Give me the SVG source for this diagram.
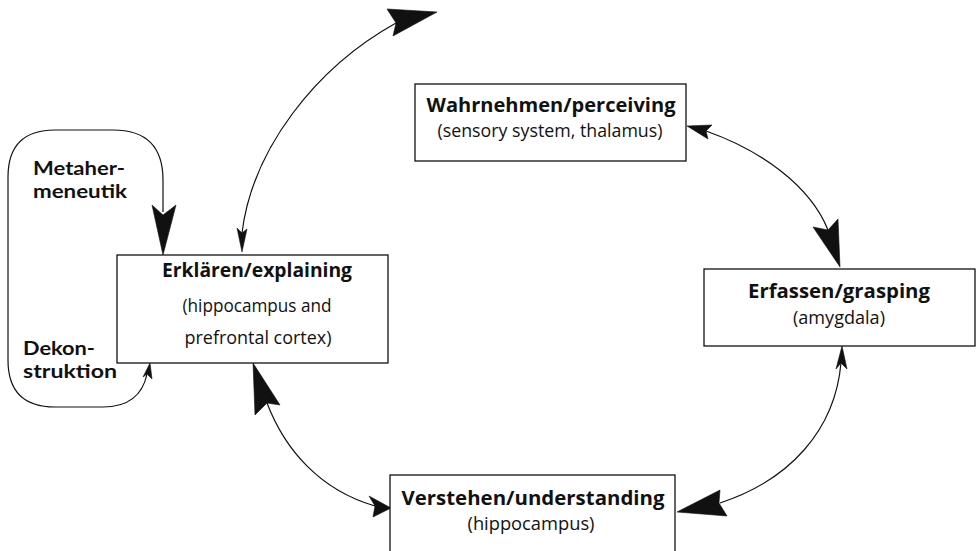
<svg xmlns="http://www.w3.org/2000/svg" width="978" height="551" viewBox="0 0 978 551">
<style>
  .box { fill: #fff; stroke: #111; stroke-width: 1.3; }
  .title { font-family: "Open Sans", "Liberation Sans", sans-serif; font-weight: 700; font-size: 19px; fill: #111; text-anchor: middle; }
  .sub { font-family: "Open Sans", "Liberation Sans", sans-serif; font-weight: 400; font-size: 18px; fill: #111; text-anchor: middle; }
  .lbl { font-family: Lato, "Liberation Sans", sans-serif; font-weight: 700; font-size: 19px; fill: #111; }
  .line { fill: none; stroke: #111; stroke-width: 1.2; }
  .head { fill: #111; stroke: #111; stroke-width: 0.6; stroke-linejoin: round; }
</style>
<rect width="978" height="551" fill="#fff"/>

<g id="connectors">
  <!-- left loop (Metahermeneutik / Dekonstruktion) -->
  <path class="line" d="M163,212 V180 Q163,130 113,130 H55 Q8,130 8,177 V360 Q8,407 55,407 H103 Q140,407 147,374"/>
  <polygon class="head" points="163,255 152,205 163,215 176,205"/>
  <polygon class="head" points="150,363 143,377 147,374 152,379"/>

  <!-- Erklaeren -> top -->
  <path class="line" d="M242,233 C252,150 315,68 396,23"/>
  <polygon class="head" points="242,252 237,228 242,233 247,229"/>
  <polygon class="head" points="437,12 387,9 396,23 393,36"/>

  <!-- Wahrnehmen <-> Erfassen -->
  <path class="line" d="M706,131 C760,150 810,185 828,230"/>
  <polygon class="head" points="687,126 712,125 706,131 708,139"/>
  <polygon class="head" points="840,267 813,227 828,230 838,219"/>

  <!-- Erfassen <-> Verstehen -->
  <path class="line" d="M841,363 C835,430 790,480 720,503"/>
  <polygon class="head" points="842,346 836,369 841,363 847,369"/>
  <polygon class="head" points="677,512 720,490 719,503 727,516"/>

  <!-- Erklaeren <-> Verstehen -->
  <path class="line" d="M267,403 C285,450 320,490 375,506"/>
  <polygon class="head" points="253,363 255,415 267,403 280,405"/>
  <polygon class="head" points="391,508 369,496 375,506 373,517"/>
</g>

<g id="loop-labels">
  <text class="lbl" x="33" y="175" textLength="92" lengthAdjust="spacingAndGlyphs">Metaher-</text>
  <text class="lbl" x="33" y="198" textLength="94" lengthAdjust="spacingAndGlyphs">meneutik</text>
  <text class="lbl" x="23" y="355" textLength="72" lengthAdjust="spacingAndGlyphs">Dekon-</text>
  <text class="lbl" x="23" y="378" textLength="94" lengthAdjust="spacingAndGlyphs">struktion</text>
</g>

<g id="node-erklaeren">
  <rect class="box" x="117" y="255" width="271" height="108"/>
  <text class="title" x="257" y="277" textLength="190" lengthAdjust="spacingAndGlyphs">Erklären/explaining</text>
  <text class="sub" x="257" y="312" textLength="149" lengthAdjust="spacingAndGlyphs">(hippocampus and</text>
  <text class="sub" x="258" y="344" textLength="147" lengthAdjust="spacingAndGlyphs">prefrontal cortex)</text>
</g>

<g id="node-wahrnehmen">
  <rect class="box" x="415" y="84" width="271" height="77"/>
  <text class="title" x="551" y="112" textLength="249" lengthAdjust="spacingAndGlyphs">Wahrnehmen/perceiving</text>
  <text class="sub" x="550" y="137" textLength="225" lengthAdjust="spacingAndGlyphs">(sensory system, thalamus)</text>
</g>

<g id="node-erfassen">
  <rect class="box" x="704" y="269" width="271" height="77"/>
  <text class="title" x="839" y="298" textLength="182" lengthAdjust="spacingAndGlyphs">Erfassen/grasping</text>
  <text class="sub" x="839" y="324" textLength="92" lengthAdjust="spacingAndGlyphs">(amygdala)</text>
</g>

<g id="node-verstehen">
  <rect class="box" x="390" y="475" width="285" height="90"/>
  <text class="title" x="533" y="505" textLength="263" lengthAdjust="spacingAndGlyphs">Verstehen/understanding</text>
  <text class="sub" x="531" y="530" textLength="127" lengthAdjust="spacingAndGlyphs">(hippocampus)</text>
</g>
</svg>
